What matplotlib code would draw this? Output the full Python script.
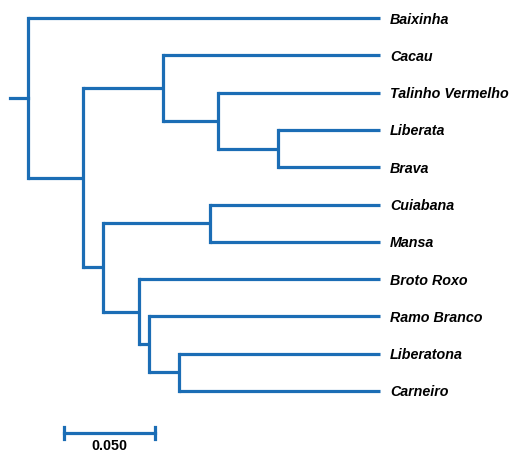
import matplotlib.pyplot as plt

leaves = ["Baixinha", "Cacau", "Talinho Vermelho", "Liberata", "Brava", "Cuiabana",
          "Mansa", "Broto Roxo", "Ramo Branco", "Liberatona", "Carneiro"]

# merges (UPGMA style): child a, child b, height; merge k makes node "nk"
merge_a = ["Liberata", "Talinho Vermelho", "Cacau", "Cuiabana", "Liberatona",
           "Ramo Branco", "Broto Roxo", "n3", "n2", "Baixinha"]
merge_b = ["Brava", "n0", "n1", "Mansa", "Carneiro", "n4", "n5", "n6", "n7", "n8"]
merge_h = [0.056, 0.089, 0.1192, 0.0934, 0.1104, 0.1269, 0.1324, 0.1522, 0.1632, 0.1934]
scale_len = 0.050

color = "#1b6db5"
lw = 2.3
total = max(merge_h)

fig = plt.figure(figsize=(5.11, 4.54), dpi=100)
ax = fig.add_axes([0, 0, 1, 1])

px = 1 / 1820.0   # data units per pixel in x
step = 37.3       # pixels between leaves
ax.set_xlim(-28 * px, 483 * px)
ax.set_ylim((454 - 18) / step, -18 / step)
ax.axis("off")

pos = {}
for i, name in enumerate(leaves):
    pos[name] = (total, i)  # x = depth from root

for k, (a, b, h) in enumerate(zip(merge_a, merge_b, merge_h)):
    xa, ya = pos[a]
    xb, yb = pos[b]
    xn = total - h
    yn = (ya + yb) / 2
    ax.plot([xn, xa], [ya, ya], color=color, lw=lw, solid_capstyle="butt")
    ax.plot([xn, xb], [yb, yb], color=color, lw=lw, solid_capstyle="butt")
    ax.plot([xn, xn], [ya, yb], color=color, lw=lw, solid_capstyle="projecting")
    pos["n%d" % k] = (xn, yn)

# root stub
rx, ry = pos["n%d" % (len(merge_h) - 1)]
ax.plot([rx - 18 * px, rx], [ry, ry], color=color, lw=lw)

for i, name in enumerate(leaves):
    ax.text(total + 10 * px, i + 1.5 / step, name, fontsize=10.3, fontstyle="italic",
            fontweight="bold", family="Liberation Sans", va="center", ha="left")

# scale bar
sx = 36 * px
sy = (433 - 18) / step
tick = 6 / step
ax.plot([sx, sx + scale_len], [sy, sy], color=color, lw=lw)
ax.plot([sx, sx], [sy - tick, sy + tick], color=color, lw=lw)
ax.plot([sx + scale_len, sx + scale_len], [sy - tick, sy + tick], color=color, lw=lw)
ax.text(sx + scale_len / 2, sy + 13 / step, "%.3f" % scale_len, fontsize=10.3,
        fontweight="bold", family="Liberation Sans", ha="center", va="center")

fig.savefig("out.png", dpi=100)
